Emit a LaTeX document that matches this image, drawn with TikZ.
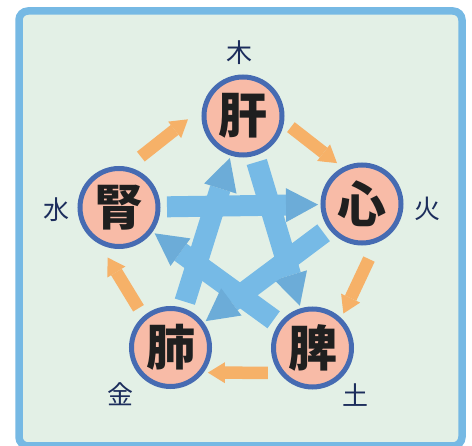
\documentclass[tikz,border=0pt]{standalone}
\usepackage{fontspec}
\newfontfamily\cjk{Noto Sans CJK JP}
\usepackage{tikz}
\usetikzlibrary{arrows.meta,calc}
\usepackage{xcolor}
\definecolor{wxframe}{RGB}{118,185,228}
\definecolor{wxback}{RGB}{227,240,230}
\definecolor{wxpink}{RGB}{248,187,167}
\definecolor{wxblue}{RGB}{70,107,178}
\definecolor{wxorange}{RGB}{246,177,104}
\definecolor{wxsky}{RGB}{118,186,230}
\definecolor{wxskydark}{RGB}{108,172,216}
\definecolor{wxnavy}{RGB}{28,45,92}
\tikzstyle{organ} = [circle, minimum size=78pt, inner sep=0pt, draw=wxblue, line width=5pt, fill=wxpink, text=black!88, font=\cjk\bfseries\fontsize{49pt}{49pt}\selectfont]
\tikzstyle{elem} = [inner sep=0pt, text=wxnavy, font=\cjk\fontsize{26pt}{26pt}\selectfont]
\tikzstyle{ctrl} = [line width=21pt, draw=wxsky, shorten <=6.5pt, shorten >=2.5pt, -{Triangle[width=34pt,length=32pt,line width=0pt,color=wxskydark,fill=wxskydark]}]
\tikzstyle{gen} = [line width=12.5pt, draw=wxorange, -{Triangle[width=21pt,length=17pt,line width=0pt]}]

\begin{document}
\begin{tikzpicture}[x=1pt,y=-1pt]
\useasboundingbox (0,0) rectangle (472,446);
% Frame
\draw[line width=7.5pt, draw=wxframe, fill=wxback, rounded corners=9pt] (19,11) rectangle (462,446);

% Organs
\node[organ] (liver) at (243,116) {肝};
\node[organ] (heart) at (362,204) {心};
\node[organ] (kidney) at (119,207.5) {腎};
\node[organ] (lung) at (170.5,347.5) {肺};
\node[organ] (spleen) at (312.5,348) {脾};

% Elements
\node[elem] (wood) at (239.5,52.5) {木};
\node[elem] (fire) at (427,208.5) {火};
\node[elem] (water) at (56,209.5) {水};
\node[elem] (metal) at (120.5,394.5) {金};
\node[elem] (earth) at (355.5,395) {土};

% Controlling cycle
\draw[ctrl] (liver) -- (spleen);
\draw[ctrl] (spleen) -- (kidney);
\draw[ctrl] (kidney) -- (heart);
\draw[ctrl] (heart) -- (lung);
\draw[ctrl] (lung) -- (liver);

% Generating cycle
\draw[gen] ($(kidney)!0.31!(liver)!28pt!90:(liver)$) -- ($(kidney)!0.70!(liver)!30pt!90:(liver)$);
\draw[gen] ($(liver)!0.305!(heart)!19.5pt!90:(heart)$) -- ($(liver)!0.70!(heart)!18pt!90:(heart)$);
\draw[gen] ($(heart)!0.327!(spleen)!24.5pt!90:(spleen)$) -- ($(heart)!0.72!(spleen)!18pt!90:(spleen)$);
\draw[gen] ($(spleen)!0.313!(lung)!25pt!90:(lung)$) -- ($(spleen)!0.736!(lung)!25pt!90:(lung)$);
\draw[gen] ($(lung)!0.321!(kidney)!16.5pt!90:(kidney)$) -- ($(lung)!0.712!(kidney)!28pt!90:(kidney)$);
\end{tikzpicture}
\end{document}
